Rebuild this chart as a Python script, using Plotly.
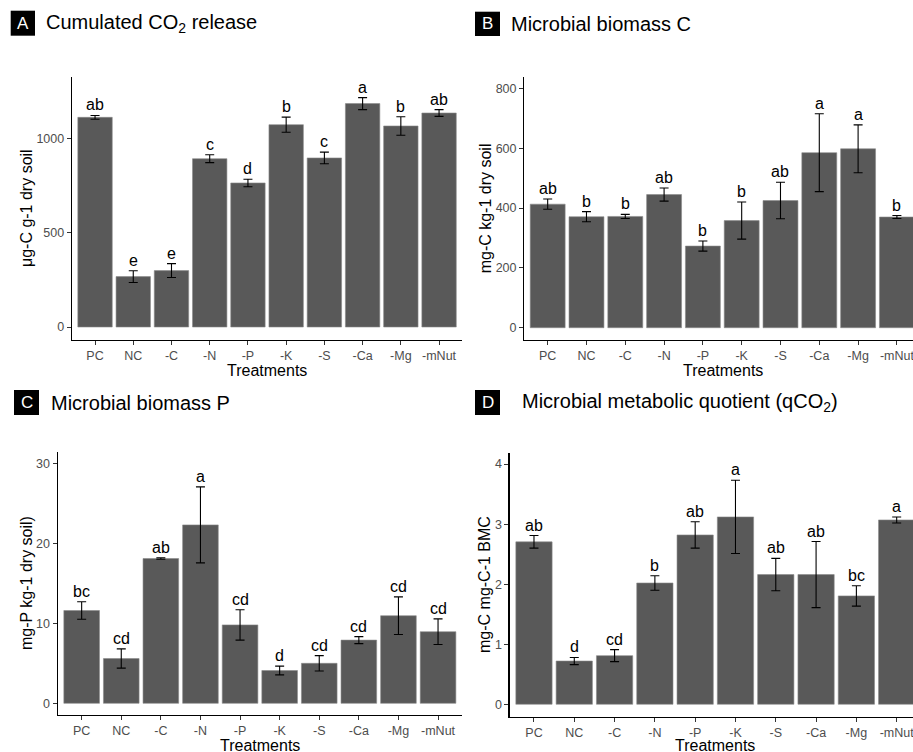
import plotly.graph_objects as go

W, H = 913, 752

categories = ["PC", "NC", "-C", "-N", "-P", "-K", "-S", "-Ca", "-Mg", "-mNut"]

co2_mean = [1115, 268, 300, 895, 766, 1076, 899, 1188, 1069, 1138]
co2_se = [10, 31, 37, 21, 20, 40, 31, 32, 49, 18]
co2_letters = ["ab", "e", "e", "c", "d", "b", "c", "a", "b", "ab"]

mbc_mean = [413, 371, 372, 445, 273, 358, 425, 585, 598, 370]
mbc_se = [17, 17, 7, 22, 17, 62, 61, 130, 80, 5]
mbc_letters = ["ab", "b", "b", "ab", "b", "b", "ab", "a", "a", "b"]

mbp_mean = [11.6, 5.6, 18.1, 22.3, 9.8, 4.1, 5.0, 7.9, 10.95, 8.95]
mbp_se = [1.1, 1.2, 0.1, 4.75, 1.9, 0.55, 0.96, 0.44, 2.35, 1.6]
mbp_letters = ["bc", "cd", "ab", "a", "cd", "d", "cd", "cd", "cd", "cd"]

qco2_mean = [2.705, 0.72, 0.81, 2.02, 2.82, 3.12, 2.16, 2.16, 1.805, 3.07]
qco2_se = [0.105, 0.06, 0.10, 0.12, 0.22, 0.61, 0.27, 0.55, 0.17, 0.05]
qco2_letters = ["ab", "d", "cd", "b", "ab", "a", "ab", "ab", "bc", "a"]

FONT = "Liberation Sans, Arial, sans-serif"
BAR = "#595959"


def px(x):
    return x / W


def py(y):
    return 1 - y / H


panels = [
    dict(mean=co2_mean, se=co2_se, letters=co2_letters,
         xd=(72.1, 462), yd=(76.7, 340), xr=[-0.6, 9.6], yr=[-69, 1331],
         ticks=[0, 500, 1000], ytitle="μg-C g-1 dry soil", ytx=26.7,
         box=(10.7, 35, 10.7, 35.7), tag="A", title="Cumulated CO<sub>2</sub> release", tx=44,
         xt=(267, 370)),
    dict(mean=mbc_mean, se=mbc_se, letters=mbc_letters,
         xd=(524.4, 913), yd=(76.7, 340), xr=[-0.6, 9.415], yr=[-41, 839],
         ticks=[0, 200, 400, 600, 800], ytitle="mg-C kg-1 dry soil", ytx=485,
         box=(475, 500, 11.7, 36), tag="B", title="Microbial biomass C", tx=509,
         xt=(722.7, 370)),
    dict(mean=mbp_mean, se=mbp_se, letters=mbp_letters,
         xd=(57.9, 461.8), yd=(451.7, 715), xr=[-0.6, 9.6], yr=[-1.46, 31.45],
         ticks=[0, 10, 20, 30], ytitle="mg-P kg-1 dry soil)", ytx=26.7,
         box=(14, 39, 390, 415), tag="C", title="Microbial biomass P", tx=49.3,
         xt=(260, 745.7)),
    dict(mean=qco2_mean, se=qco2_se, letters=qco2_letters,
         xd=(509.8, 913), yd=(452.7, 716.7), xr=[-0.6, 9.405], yr=[-0.207, 4.19],
         ticks=[0, 1, 2, 3, 4], ytitle="mg-C mg-C-1 BMC", ytx=484.3,
         box=(475, 500, 390, 415), tag="D", title="Microbial metabolic quotient (qCO<sub>2</sub>)", tx=520,
         xt=(715, 745.7)),
]

fig = go.Figure()
annotations = []
shapes = []
layout = {}

for i, p in enumerate(panels, start=1):
    xa = "x" if i == 1 else f"x{i}"
    ya = "y" if i == 1 else f"y{i}"
    fig.add_trace(go.Bar(
        x=categories, y=p["mean"], xaxis=xa, yaxis=ya,
        marker=dict(color=BAR, line=dict(color="#8a8a8a", width=0.6)),
        error_y=dict(type="data", array=p["se"], visible=True,
                     color="black", thickness=1.1, width=4.5),
        showlegend=False, hoverinfo="skip",
    ))
    axis_common = dict(
        showline=True, linecolor="black", linewidth=1.4, mirror=False,
        showgrid=False, zeroline=False, ticks="outside", ticklen=4,
        tickcolor="#333333", tickwidth=1,
        tickfont=dict(family=FONT, size=12.5, color="#4D4D4D"),
    )
    layout["xaxis" if i == 1 else f"xaxis{i}"] = dict(
        axis_common, domain=[px(p["xd"][0]), px(p["xd"][1])],
        anchor=ya, type="category", categoryorder="array",
        categoryarray=categories, range=p["xr"], fixedrange=True,
    )
    layout["yaxis" if i == 1 else f"yaxis{i}"] = dict(
        axis_common, domain=[py(p["yd"][1]), py(p["yd"][0])],
        anchor=xa, range=p["yr"], tickmode="array", tickvals=p["ticks"],
        fixedrange=True,
    )
    # significance letters
    for c, m, s, t in zip(categories, p["mean"], p["se"], p["letters"]):
        annotations.append(dict(
            x=c, y=m + s, xref=xa, yref=ya, text=t, showarrow=False,
            yanchor="bottom", xanchor="center",
            font=dict(family=FONT, size=16, color="black"),
        ))
    # panel tag box
    x0, x1, y0, y1 = p["box"]
    shapes.append(dict(type="rect", xref="paper", yref="paper",
                       x0=px(x0), x1=px(x1), y0=py(y1), y1=py(y0),
                       fillcolor="black", line=dict(width=0)))
    annotations.append(dict(
        x=px((x0 + x1) / 2), y=py((y0 + y1) / 2), xref="paper", yref="paper",
        text=p["tag"], showarrow=False, xanchor="center", yanchor="middle",
        font=dict(family=FONT, size=17, color="white"),
    ))
    annotations.append(dict(
        x=px(p["tx"]), y=py((y0 + y1) / 2), xref="paper", yref="paper",
        text=p["title"], showarrow=False, xanchor="left", yanchor="middle",
        font=dict(family=FONT, size=20, color="black"),
    ))
    # y axis title
    annotations.append(dict(
        x=px(p["ytx"]), y=py((p["yd"][0] + p["yd"][1]) / 2),
        xref="paper", yref="paper", text=p["ytitle"], showarrow=False,
        textangle=-90, xanchor="center", yanchor="middle",
        font=dict(family=FONT, size=16, color="black"),
    ))
    # x axis title
    annotations.append(dict(
        x=px(p["xt"][0]), y=py(p["xt"][1]), xref="paper", yref="paper",
        text="Treatments", showarrow=False, xanchor="center", yanchor="middle",
        font=dict(family=FONT, size=16, color="black"),
    ))

fig.update_layout(
    width=W, height=H, margin=dict(l=0, r=0, t=0, b=0),
    paper_bgcolor="white", plot_bgcolor="white",
    bargap=0.1, annotations=annotations, shapes=shapes,
    font=dict(family=FONT), **layout,
)

fig.write_html(
    "out.html",
    config={"displayModeBar": False, "staticPlot": True},
    post_script="document.body.style.margin='0';document.body.style.overflow='hidden';",
)
